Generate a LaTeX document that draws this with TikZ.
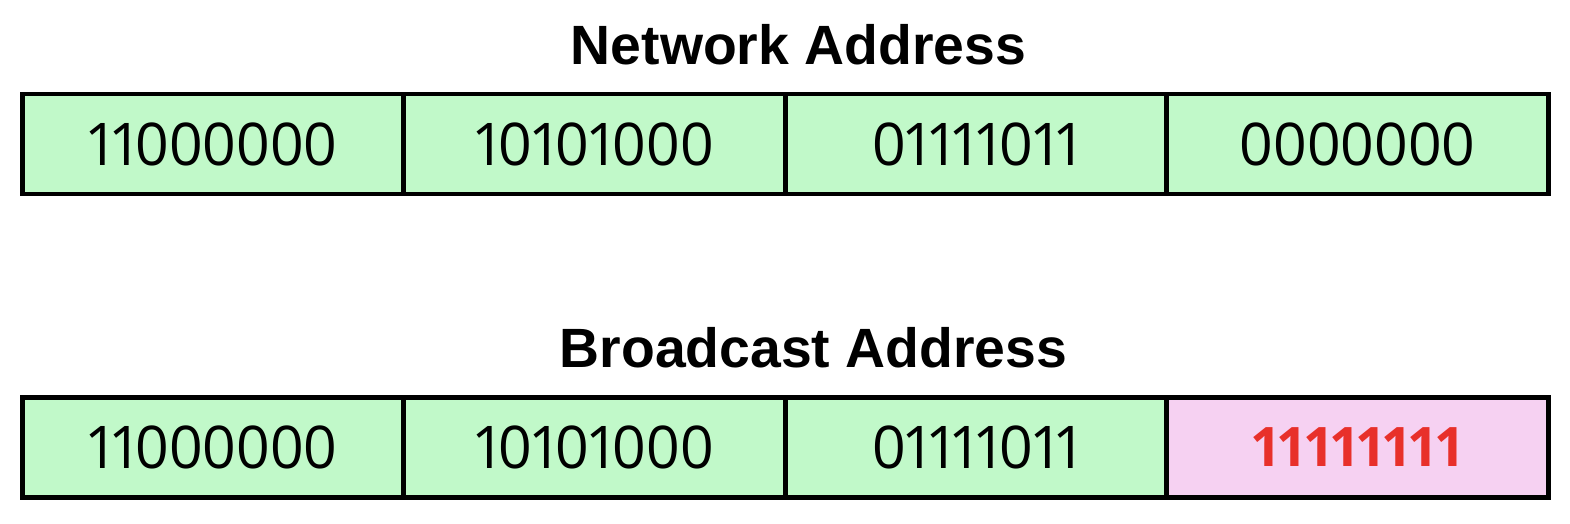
\documentclass[tikz,border=0pt]{standalone}
\usepackage{fontspec}
\setmainfont[Numbers=Proportional]{Open Sans}
\newfontfamily\titlefont{Liberation Sans}
\usetikzlibrary{positioning}
\definecolor{cellgreen}{HTML}{C1F9C9}
\definecolor{cellpink}{HTML}{F6D1F2}
\definecolor{bitred}{HTML}{E8302A}

\begin{document}
\begin{tikzpicture}[every node/.style={font=\fontsize{33.5}{38}\selectfont},
    cell/.style={draw, line width=2.7pt, fill=cellgreen, minimum width=7.63cm, minimum height=2cm, inner sep=0pt, outer sep=0pt},
    title/.style={font=\titlefont\bfseries\fontsize{31.5}{36}\selectfont}]
  \useasboundingbox (0,0) rectangle (31.4,10.48);

  % Network Address
  \node[title] (nettitle) at (15.97,9.58) {Network Address};
  \node[cell] (net1) at (4.26,7.6) {11000000};
  \node[cell, right=0pt of net1] (net2) {10101000};
  \node[cell, right=0pt of net2] (net3) {01111011};
  \node[cell, right=0pt of net3] (net4) {0000000};

  % Broadcast Address
  \node[title] (bctitle) at (16.27,3.52) {Broadcast Address};
  \node[cell] (bc1) at (4.26,1.53) {11000000};
  \node[cell, right=0pt of bc1] (bc2) {10101000};
  \node[cell, right=0pt of bc2] (bc3) {01111011};
  \node[cell, right=0pt of bc3, fill=cellpink, text=bitred, font=\bfseries\fontsize{31}{36}\selectfont] (bc4) {11111111};

\end{tikzpicture}
\end{document}
